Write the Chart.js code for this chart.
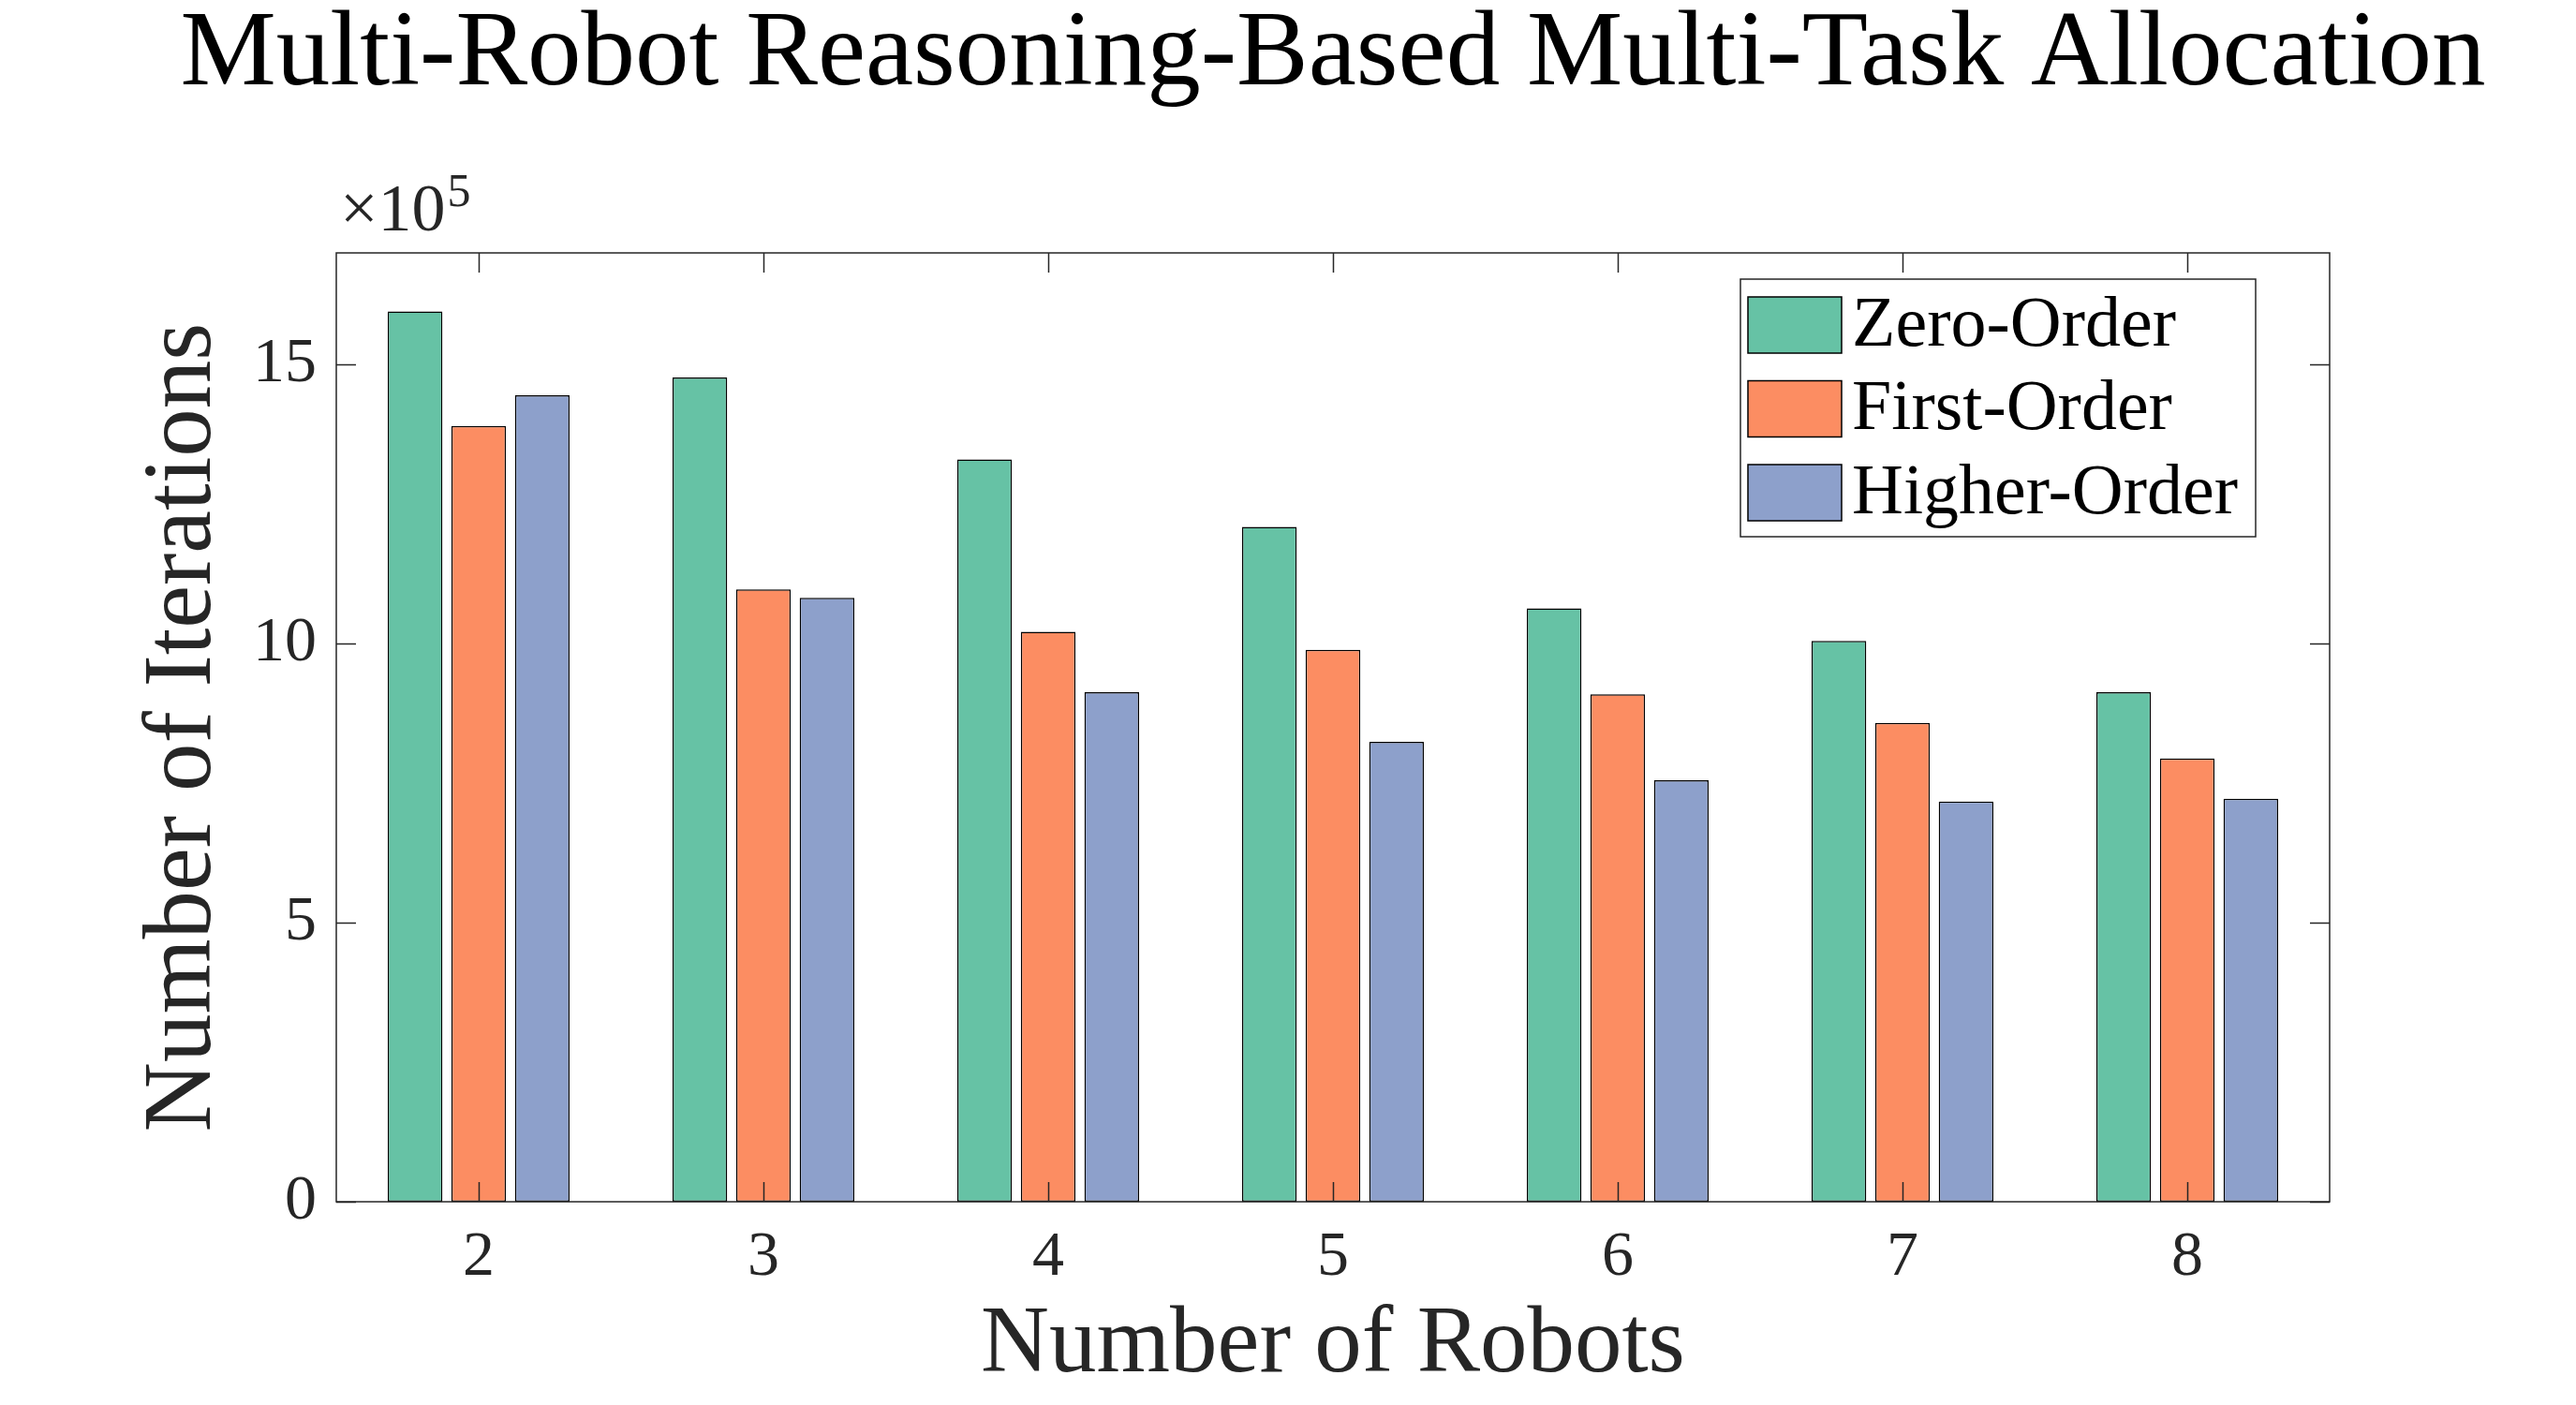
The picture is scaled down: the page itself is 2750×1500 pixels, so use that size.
<!DOCTYPE html>
<html>
<head>
<meta charset="utf-8">
<script src="https://cdn.jsdelivr.net/npm/chart.js@4.4.0/dist/chart.umd.min.js"></script>
<style>
  html, body { margin: 0; padding: 0; background: #fff; }
  #wrap { width: 2750px; height: 1500px; }
</style>
</head>
<body>
<div id="wrap"><canvas id="chart" width="2750" height="1500"></canvas></div>
<script>
// values in units of 1e5 iterations
const robots = ["2", "3", "4", "5", "6", "7", "8"];
const zeroOrder = [15.95, 14.77, 13.30, 12.09, 10.63, 10.05, 9.13];
const firstOrder = [13.90, 10.97, 10.21, 9.89, 9.09, 8.58, 7.94];
const higherOrder = [14.45, 10.82, 9.13, 8.24, 7.55, 7.17, 7.22];
const yTicks = [0, 5, 10, 15];
const chartTitle = "Multi-Robot Reasoning-Based Multi-Task Allocation";

const FONT = "'Liberation Serif', 'DejaVu Serif', serif";
const AXIS = "#262626";
const TICK_LEN = 21;

const framePlugin = {
  id: "matlabFrame",
  afterDatasetsDraw(chart) {
    const { ctx, chartArea: a, scales } = chart;
    ctx.save();
    ctx.strokeStyle = AXIS;
    ctx.lineWidth = 1.5;
    ctx.strokeRect(a.left, a.top, a.right - a.left, a.bottom - a.top);
    ctx.beginPath();
    scales.x.ticks.forEach((t, i) => {
      const px = Math.round(scales.x.getPixelForTick(i)) + 0.5;
      ctx.moveTo(px, a.bottom);
      ctx.lineTo(px, a.bottom - TICK_LEN);
      ctx.moveTo(px, a.top);
      ctx.lineTo(px, a.top + TICK_LEN);
    });
    scales.y.ticks.forEach((t) => {
      const py = Math.round(scales.y.getPixelForValue(t.value)) + 0.5;
      ctx.moveTo(a.left, py);
      ctx.lineTo(a.left + TICK_LEN, py);
      ctx.moveTo(a.right, py);
      ctx.lineTo(a.right - TICK_LEN, py);
    });
    ctx.stroke();

    // x10^5 exponent above the y axis
    ctx.fillStyle = AXIS;
    ctx.textBaseline = "alphabetic";
    ctx.textAlign = "left";
    ctx.font = `72px ${FONT}`;
    const base = "\u00d710";
    ctx.fillText(base, a.left + 4, a.top - 24);
    const w = ctx.measureText(base).width;
    ctx.font = `50px ${FONT}`;
    ctx.fillText("5", a.left + 6 + w, a.top - 50);
    ctx.restore();
  },
  afterDraw(chart) {
    const { ctx, chartArea: a } = chart;
    ctx.save();
    // title centred over the axes box, like MATLAB
    ctx.fillStyle = "#000";
    ctx.font = `115px ${FONT}`;
    ctx.textAlign = "center";
    ctx.textBaseline = "alphabetic";
    ctx.fillText(chartTitle, (a.left + a.right) / 2, 90);

    // legend box inside the axes, top right
    const boxRight = a.right - 79;
    const boxTop = a.top + 28;
    const boxW = 550;
    const boxH = 275;
    const left = boxRight - boxW;
    ctx.fillStyle = "#fff";
    ctx.fillRect(left, boxTop, boxW, boxH);
    ctx.strokeStyle = AXIS;
    ctx.lineWidth = 1.5;
    ctx.strokeRect(left, boxTop, boxW, boxH);
    ctx.font = `76px ${FONT}`;
    ctx.textBaseline = "middle";
    ctx.textAlign = "left";
    chart.data.datasets.forEach((ds, i) => {
      const cy = boxTop + 49 + i * 89.5;
      ctx.fillStyle = ds.backgroundColor;
      ctx.fillRect(left + 8, cy - 30, 100, 60);
      ctx.strokeStyle = "#000";
      ctx.strokeRect(left + 8, cy - 30, 100, 60);
      ctx.fillStyle = "#000";
      ctx.fillText(ds.label, left + 119, cy + 2);
    });
    ctx.restore();
  },
};

function barSet(label, data, color) {
  return {
    label,
    data,
    backgroundColor: color,
    borderColor: "#000",
    borderWidth: 1.5,
    borderSkipped: false,
    categoryPercentage: 0.67,
    barPercentage: 0.86,
  };
}

new Chart(document.getElementById("chart"), {
  type: "bar",
  data: {
    labels: robots,
    datasets: [
      barSet("Zero-Order", zeroOrder, "#66c2a5"),
      barSet("First-Order", firstOrder, "#fc8d62"),
      barSet("Higher-Order", higherOrder, "#8da0cb"),
    ],
  },
  options: {
    responsive: false,
    animation: false,
    devicePixelRatio: 1,
    layout: { padding: { left: 0, right: 263, top: 270, bottom: 0 } },
    plugins: {
      legend: { display: false },
      tooltip: { enabled: false },
      title: { display: false },
    },
    scales: {
      x: {
        grid: { display: false, drawTicks: false },
        border: { display: false },
        ticks: { color: AXIS, padding: 19, font: { family: FONT, size: 68 } },
        title: {
          display: true,
          text: "Number of Robots",
          color: AXIS,
          font: { family: FONT, size: 101, lineHeight: 1.2 },
          padding: { top: 0, bottom: 2 },
        },
        afterFit: (scale) => { scale.height = 217; },
      },
      y: {
        min: 0,
        max: 17,
        grid: { display: false, drawTicks: false },
        border: { display: false },
        afterBuildTicks: (scale) => { scale.ticks = yTicks.map((v) => ({ value: v })); },
        ticks: { color: AXIS, padding: 21, font: { family: FONT, size: 68 } },
        title: {
          display: true,
          text: "Number of Iterations",
          color: AXIS,
          font: { family: FONT, size: 103, lineHeight: 1.2 },
          padding: { top: 135, bottom: 0 },
        },
        afterFit: (scale) => { scale.width = 359; },
      },
    },
  },
  plugins: [framePlugin],
});
</script>
</body>
</html>
